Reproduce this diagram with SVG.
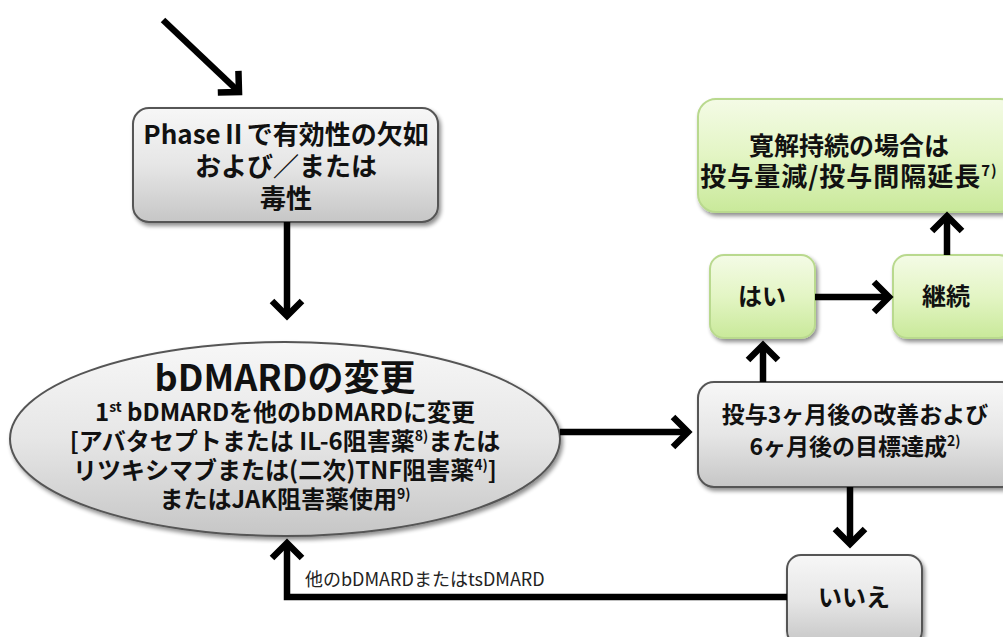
<svg xmlns="http://www.w3.org/2000/svg" width="1003" height="637" viewBox="0 0 1003 637">
<defs>
<linearGradient id="gGray" x1="0" y1="0" x2="0" y2="1">
<stop offset="0" stop-color="#f7f7f7"/>
<stop offset="0.5" stop-color="#e6e6e6"/>
<stop offset="1" stop-color="#c6c6c6"/>
</linearGradient>
<linearGradient id="gGreen" x1="0" y1="0" x2="0" y2="1">
<stop offset="0" stop-color="#f4fbe6"/>
<stop offset="0.5" stop-color="#e3f5c4"/>
<stop offset="1" stop-color="#c9e99a"/>
</linearGradient>
<filter id="sh" x="-10%" y="-10%" width="125%" height="130%">
<feGaussianBlur in="SourceAlpha" stdDeviation="2"/>
<feOffset dx="2" dy="3"/>
<feComponentTransfer><feFuncA type="linear" slope="0.45"/></feComponentTransfer>
<feMerge><feMergeNode/><feMergeNode in="SourceGraphic"/></feMerge>
</filter>
<marker id="chev" markerUnits="userSpaceOnUse" viewBox="-24 -20 30 40" markerWidth="30" markerHeight="40" refX="0" refY="0" orient="auto">
<path d="M -15 -15 L 0 0 L -15 15" fill="none" stroke="#000" stroke-width="6.5" stroke-linecap="butt" stroke-linejoin="miter"/>
</marker>
</defs>
<style>
.gray{fill:url(#gGray);stroke:#555;stroke-width:2;filter:url(#sh)}
.green{fill:url(#gGreen);stroke:#b9d98e;stroke-width:2;filter:url(#sh)}
.t{font-family:"Noto Sans CJK JP","Noto Sans",sans-serif;font-weight:bold;fill:#111;text-anchor:middle}
.e{font-size:24px}
.lbl{font-family:"Noto Sans CJK JP","Noto Sans",sans-serif;fill:#222;font-size:18px}
.c{fill:none;stroke:#000;stroke-width:6.5;stroke-linejoin:miter}
</style>

<g id="phase2">
<rect class="gray" x="133" y="108" width="305" height="114" rx="16"/>
<text class="t" font-size="26" x="286" y="144">PhaseⅡで有効性の欠如</text>
<text class="t" font-size="26" x="286" y="176">および／または</text>
<text class="t" font-size="26" x="286" y="208">毒性</text>
</g>

<g id="bdmard">
<ellipse class="gray" cx="285" cy="439" rx="275" ry="97"/>
<text class="t" font-size="36" x="285" y="391">bDMARDの変更</text>
<text class="t e" x="285" y="421">1<tspan font-size="14" dy="-9">st</tspan><tspan dy="9"> bDMARDを他のbDMARDに変更</tspan></text>
<text class="t e" x="285" y="450">[アバタセプトまたは IL-6阻害薬<tspan font-size="14" dy="-9">8)</tspan><tspan dy="9">または</tspan></text>
<text class="t e" x="285" y="479">リツキシマブまたは(二次)TNF阻害薬<tspan font-size="14" dy="-9">4)</tspan><tspan dy="9">]</tspan></text>
<text class="t e" x="285" y="508">またはJAK阻害薬使用<tspan font-size="14" dy="-9">9)</tspan></text>
</g>

<g id="eval">
<rect class="gray" x="698" y="382" width="320" height="105" rx="16"/>
<text class="t" font-size="23" x="855" y="423">投与3ヶ月後の改善および</text>
<text class="t" font-size="23" x="855" y="455">6ヶ月後の目標達成<tspan font-size="14" dy="-9">2)</tspan></text>
</g>

<g id="yes">
<rect class="green" x="710" y="255" width="105" height="83" rx="14"/>
<text class="t" font-size="24" x="762" y="305">はい</text>
</g>

<g id="continue">
<rect class="green" x="893" y="255" width="120" height="83" rx="14"/>
<text class="t" font-size="24" x="946" y="305">継続</text>
</g>

<g id="remission">
<rect class="green" x="698" y="99" width="320" height="113" rx="18"/>
<text class="t" font-size="25" x="849" y="155">寛解持続の場合は</text>
<text class="t" font-size="26" x="849" y="186" letter-spacing="1">投与量減/投与間隔延長<tspan font-size="15" dy="-10">7)</tspan></text>
</g>

<g id="no">
<rect class="gray" x="787" y="555" width="135" height="90" rx="14"/>
<text class="t" font-size="24" x="854" y="606">いいえ</text>
</g>

<g id="connectors">
<path class="c" d="M 163 20 L 239 92" marker-end="url(#chev)"/>
<path class="c" d="M 287 222 L 287 316" marker-end="url(#chev)"/>
<path class="c" d="M 560 432 L 688 432" marker-end="url(#chev)"/>
<path class="c" d="M 763 382 L 763 345" marker-end="url(#chev)"/>
<path class="c" d="M 815 297 L 889 297" marker-end="url(#chev)"/>
<path class="c" d="M 947 255 L 947 216" marker-end="url(#chev)"/>
<path class="c" d="M 850 487 L 850 544" marker-end="url(#chev)"/>
<path class="c" d="M 787 597 L 287 597 L 287 543" marker-end="url(#chev)"/>
<text class="lbl" x="305" y="586">他のbDMARDまたはtsDMARD</text>
</g>
</svg>
